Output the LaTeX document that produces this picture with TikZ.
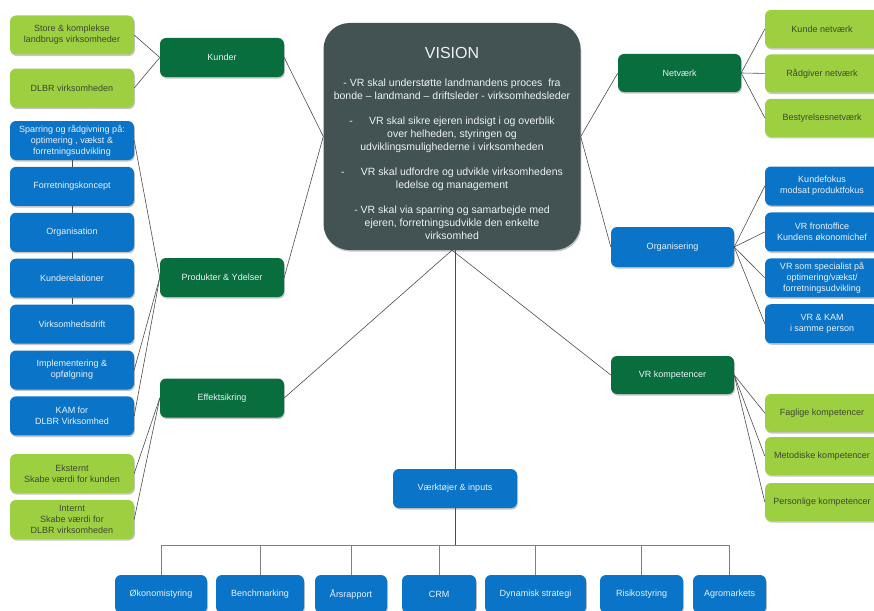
\documentclass[tikz,border=0pt]{standalone}
\usepackage{fontspec}
\setmainfont{Liberation Sans}
\usetikzlibrary{positioning,shadows}
\definecolor{vrblue}{RGB}{10,116,200}
\definecolor{vrdkgreen}{RGB}{8,110,62}
\definecolor{vrlime}{RGB}{156,208,64}
\definecolor{vrslate}{RGB}{67,82,82}
\definecolor{vrtext}{RGB}{236,242,250}
\definecolor{vrdark}{RGB}{62,72,50}

\begin{document}
\begin{tikzpicture}[x=1pt, y=-1pt,
    node distance=6.5pt,
    box/.style={rectangle, rounded corners=6pt, align=center, inner sep=2pt,
                minimum width=124pt, minimum height=39pt,
                font=\fontsize{9}{11}\selectfont,
                drop shadow={shadow xshift=0.8pt, shadow yshift=-1.6pt, opacity=0.45}},
    bluebox/.style={box, fill=vrblue, text=vrtext},
    headbox/.style={box, fill=vrdkgreen, text=vrtext},
    limebox/.style={box, fill=vrlime, text=vrdark},
    sidebox/.style={minimum width=114pt},
    tool/.style={bluebox, minimum height=38pt},
    link/.style={draw=black!70, line width=0.6pt},
    bus/.style={draw=black!50, line width=1pt}]
  \useasboundingbox (0,0) rectangle (874,610);
  % centre
  \node[box, fill=vrslate, text=vrtext, rounded corners=26pt, minimum width=257pt,
        minimum height=227pt, font=\fontsize{10.5}{13}\selectfont] (vision) at (452,136.5)
    {\mbox{}\\[13pt]
     {\fontsize{16}{18}\selectfont VISION}\\[15pt]
     - VR skal understøtte landmandens proces\ \ fra\\
     bonde -- landmand -- driftsleder - virksomhedsleder\\[12pt]
     -\quad\ \ VR skal sikre ejeren indsigt i og overblik\\
     over helheden, styringen og\\
     udviklingsmulighederne i virksomheden\\[12pt]
     -\quad\ \ VR skal udfordre og udvikle virksomhedens\\
     ledelse og management\\[12pt]
     - VR skal via sparring og samarbejde med\\
     ejeren, forretningsudvikle den enkelte\\
     virksomhed};
  % left side
  \node[headbox] (kunder) at (222,57.5) {Kunder};
  \node[limebox] (store) at (72,35) {Store \& komplekse\\landbrugs virksomheder};
  \node[limebox] (dlbr) at (72,88) {DLBR virksomheden};
  \node[headbox] (produkter) at (222,277.5) {Produkter \& Ydelser};
  \node[bluebox] (sparring) at (72,140.5) {Sparring og rådgivning på:\\optimering , vækst \&\\forretningsudvikling};
  \node[bluebox, below=of sparring] (koncept) {Forretningskoncept};
  \node[bluebox, below=of koncept] (organisation) {Organisation};
  \node[bluebox, below=of organisation] (kunderel) {Kunderelationer};
  \node[bluebox, below=of kunderel] (drift) {Virksomhedsdrift};
  \node[bluebox, below=of drift] (implement) {Implementering \&\\opfølgning};
  \node[bluebox, below=of implement] (kam) {KAM for\\DLBR Virksomhed};
  \node[headbox] (effekt) at (222,398) {Effektsikring};
  \node[limebox] (ekstern) at (72,473.5) {Eksternt\\Skabe værdi for kunden};
  \node[limebox, below=of ekstern] (intern) {Internt\\Skabe værdi for\\DLBR virksomheden};
  % right side
  \node[headbox, minimum width=123pt, minimum height=38pt] (netvaerk) at (679.5,73) {Netværk};
  \node[limebox, sidebox, minimum height=38pt] (kundenet) at (822,29) {Kunde netværk};
  \node[limebox, sidebox, minimum height=38pt, below=6pt of kundenet] (raadnet) {Rådgiver netværk};
  \node[limebox, sidebox, minimum height=38pt, below=6pt of raadnet] (bestnet) {Bestyrelsesnetværk};
  \node[bluebox, minimum width=123pt, minimum height=40pt] (organisering) at (672.5,247) {Organisering};
  \node[bluebox, sidebox] (kundefokus) at (822,186) {Kundefokus\\modsat produktfokus};
  \node[bluebox, sidebox, below=of kundefokus] (frontoffice) {VR frontoffice\\Kundens økonomichef};
  \node[bluebox, sidebox, below=of frontoffice] (specialist) {VR som specialist på\\optimering/vækst/\\forretningsudvikling};
  \node[bluebox, sidebox, below=of specialist] (vrkam) {VR \& KAM\\i samme person};
  \node[headbox, minimum width=123pt, minimum height=38pt] (kompetencer) at (672.5,375) {VR kompetencer};
  \node[limebox, sidebox, minimum height=38pt] (faglige) at (822,413) {Faglige kompetencer};
  \node[limebox, sidebox, minimum height=38pt] (metodiske) at (822,456) {Metodiske kompetencer};
  \node[limebox, sidebox, minimum height=38pt] (personlige) at (822,502) {Personlige kompetencer};
  % tools
  \node[bluebox] (vaerktoejer) at (455,488.5) {Værktøjer \& inputs};
  \node[tool, minimum width=92pt] (oekonomi) at (161,594) {Økonomistyring};
  \node[tool, minimum width=88pt] (bench) at (260,594) {Benchmarking};
  \node[tool, minimum width=72pt] (aars) at (351,594) {Årsrapport};
  \node[tool, minimum width=74pt] (crm) at (439,594) {CRM};
  \node[tool, minimum width=101pt] (dynamisk) at (535.5,594) {Dynamisk strategi};
  \node[tool, minimum width=83pt] (risiko) at (641.5,594) {Risikostyring};
  \node[tool, minimum width=73pt] (agro) at (729.5,594) {Agromarkets};
  % connectors
  \draw[link] (kunder.east) -- (vision.west);
  \draw[link] (produkter.east) -- (vision.west);
  \draw[link] (effekt.east) -- (vision.south);
  \draw[link] (kompetencer.west) -- (vision.south);
  \draw[link] (netvaerk.west) -- (vision.east);
  \draw[link] (organisering.west) -- (vision.east);
  \draw[link] (vaerktoejer.north |- vision.south) -- (vaerktoejer.north);
  \draw[link] (kunder.west) -- (store.east);
  \draw[link] (kunder.west) -- (dlbr.east);
  \draw[link] (sparring.south) -- (koncept.north);
  \draw[link] (koncept.south) -- (organisation.north);
  \draw[link] (organisation.south) -- (kunderel.north);
  \draw[link] (kunderel.south) -- (drift.north);
  \foreach \n in {sparring,implement,kam}
    \draw[link] (produkter.west) -- (\n.east);
  \foreach \n in {ekstern,intern}
    \draw[link] (effekt.west) -- (\n.east);
  \foreach \n in {kundenet,raadnet,bestnet}
    \draw[link] (netvaerk.east) -- (\n.west);
  \foreach \n in {kundefokus,frontoffice,specialist,vrkam}
    \draw[link] (organisering.east) -- (\n.west);
  \foreach \n in {faglige,metodiske,personlige}
    \draw[link] (kompetencer.east) -- (\n.west);
  \draw[link] (vaerktoejer.south) -- ++(0,37) coordinate (bus);
  \foreach \n in {oekonomi,bench,aars,crm,dynamisk,risiko,agro}
    \draw[bus] (\n.north) |- (bus);
\end{tikzpicture}
\end{document}
